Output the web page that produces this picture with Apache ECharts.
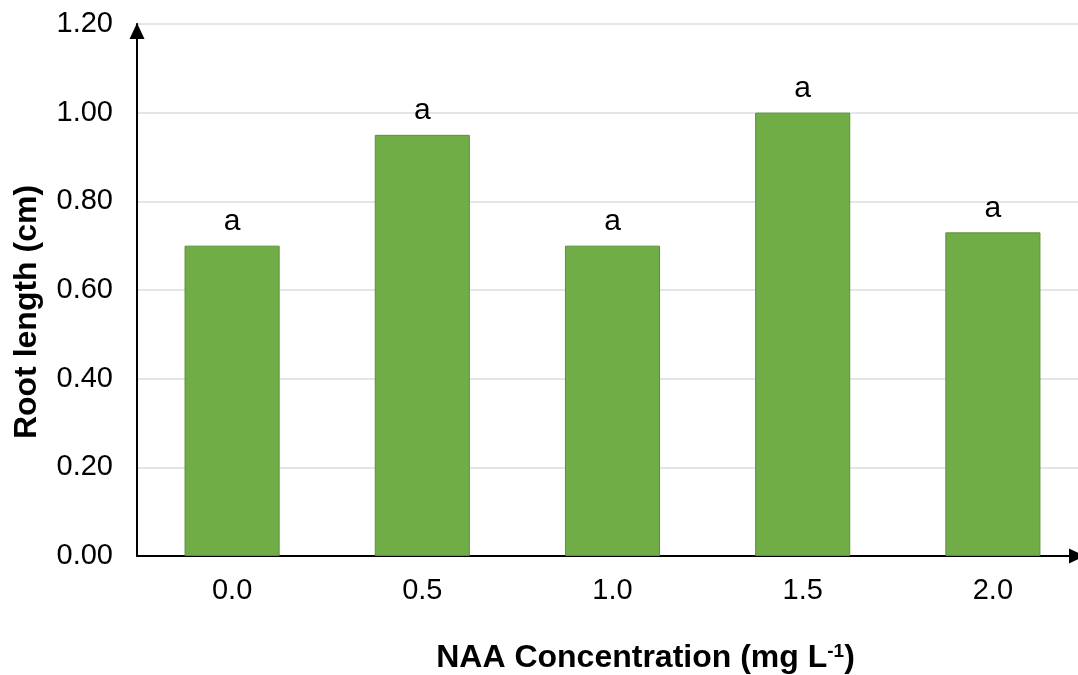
<!DOCTYPE html>
<html>
<head>
<meta charset="utf-8">
<script src="https://cdn.jsdelivr.net/npm/echarts@6/dist/echarts.min.js"></script>
<style>html,body{margin:0;padding:0;background:#fff;}#c{width:1078px;height:675px;}</style>
</head>
<body>
<div id="c"></div>
<script>
var categories = ['0.0', '0.5', '1.0', '1.5', '2.0'];
var rootLength = [0.70, 0.95, 0.70, 1.00, 0.73];
var letters = ['a', 'a', 'a', 'a', 'a'];
var yTicks = [0, 0.2, 0.4, 0.6, 0.8, 1.0, 1.2];

var FONT = 'Liberation Sans, Arial, sans-serif';
var chart = echarts.init(document.getElementById('c'));
chart.setOption({
  animation: false,
  textStyle: { fontFamily: FONT },
  grid: { left: 137, top: 24, width: 951, height: 532, containLabel: false, outerBoundsMode: 'none' },
  xAxis: {
    type: 'category',
    data: categories,
    axisLine: { lineStyle: { color: '#000', width: 2 }, symbol: ['none', 'triangle'], symbolSize: [15, 16], symbolOffset: [0, -11] },
    axisTick: { show: false },
    axisLabel: { fontSize: 29, color: '#000', margin: 20, fontFamily: FONT },
    name: '{a|NAA Concentration (mg L}{s|-1}{a|)}',
    nameLocation: 'middle',
    nameGap: 86,
    nameTextStyle: {
      padding: [0, 0, 0, 66],
      rich: {
        a: { fontSize: 32, fontWeight: 'bold', color: '#000', fontFamily: FONT },
        s: { fontSize: 19, fontWeight: 'bold', color: '#000', fontFamily: FONT, verticalAlign: 'top', padding: [0, 0, 14, 0] }
      }
    }
  },
  yAxis: {
    type: 'value',
    min: yTicks[0],
    max: yTicks[yTicks.length - 1],
    interval: 0.2,
    axisLine: { show: true, lineStyle: { color: '#000', width: 2 }, symbol: ['none', 'triangle'], symbolSize: [15, 16], symbolOffset: [0, -7] },
    axisTick: { show: false },
    axisLabel: { fontSize: 29, color: '#000', margin: 24, fontFamily: FONT, formatter: function (v) { return v.toFixed(2); } },
    splitLine: { lineStyle: { color: '#d9dde3', width: 1.5 } },
    name: 'Root length (cm)',
    nameLocation: 'middle',
    nameGap: 94,
    nameTextStyle: { fontSize: 32, fontWeight: 'bold', color: '#000', fontFamily: FONT, padding: [0, 44, 0, 0] }
  },
  series: [{
    type: 'bar',
    data: rootLength,
    barWidth: '50%',
    itemStyle: { color: '#70ad47', borderColor: '#5b8f3a', borderWidth: 1 },
    label: {
      show: true,
      position: 'top',
      distance: 9,
      fontSize: 30,
      color: '#000',
      fontFamily: FONT,
      formatter: function (p) { return letters[p.dataIndex]; }
    }
  }]
});
</script>
</body>
</html>
